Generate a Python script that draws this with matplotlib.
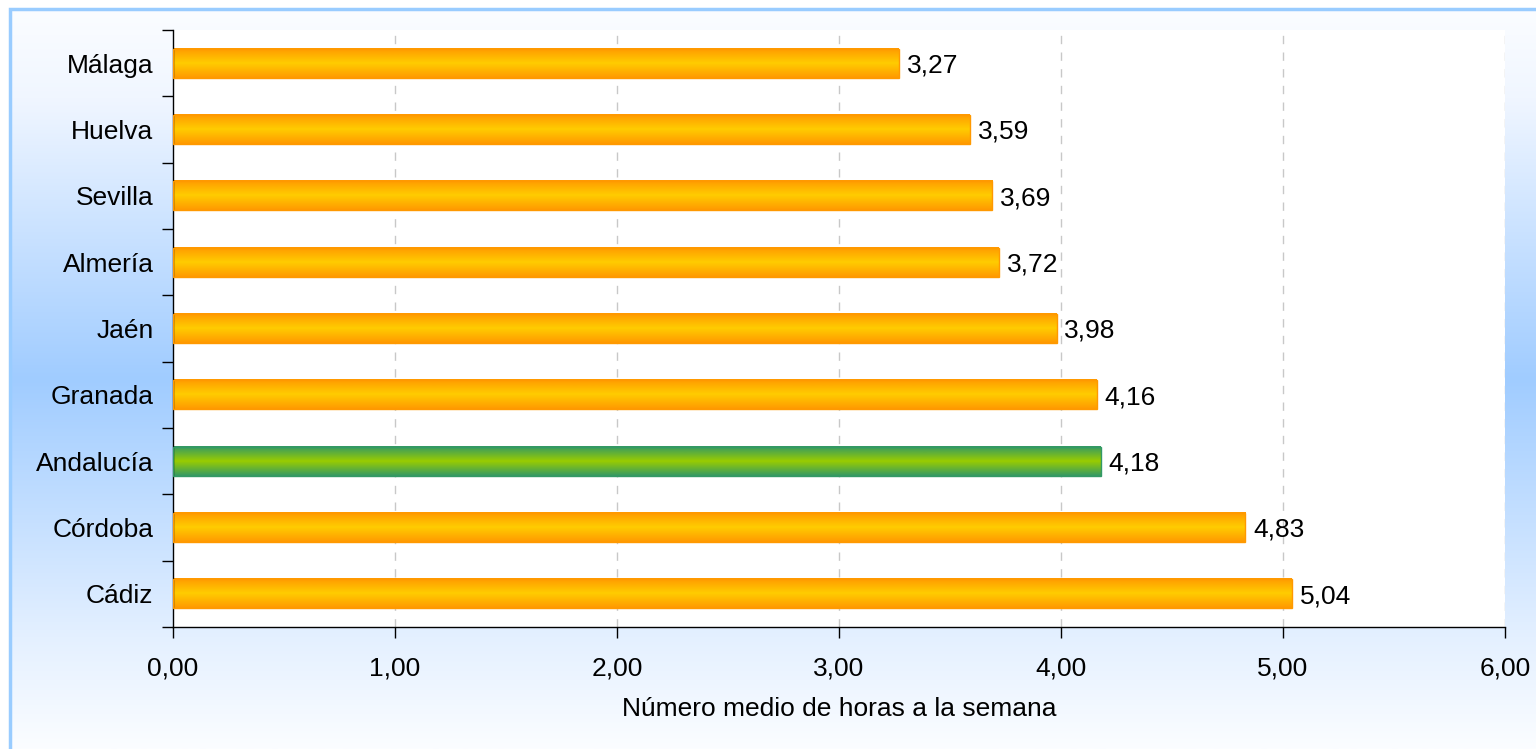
import numpy as np
import matplotlib.pyplot as plt
from matplotlib.colors import LinearSegmentedColormap
from matplotlib.patches import Rectangle
from matplotlib.ticker import FixedLocator

provincias = ["Málaga", "Huelva", "Sevilla", "Almería", "Jaén",
              "Granada", "Andalucía", "Córdoba", "Cádiz"]
horas = [3.27, 3.59, 3.69, 3.72, 3.98, 4.16, 4.18, 4.83, 5.04]
destacada = "Andalucía"
xticks = [0, 1, 2, 3, 4, 5, 6]

plt.rcParams['font.family'] = ['Liberation Sans', 'DejaVu Sans']
fs = 19

fig = plt.figure(figsize=(15.36, 7.49), dpi=100)

# fondo degradado del marco
bg = fig.add_axes([10 / 1536, 0, 1 - 10 / 1536, 1 - 9 / 749], zorder=0)
bg_cmap = LinearSegmentedColormap.from_list(
    "bg", [(0, "#fbfdff"), (0.12, "#f0f6ff"), (0.5, "#a0ccff"), (0.85, "#e4f0ff"), (1, "#fbfdff")])
grad = np.linspace(0, 1, 256).reshape(-1, 1)
bg.imshow(grad, cmap=bg_cmap, aspect='auto', extent=(0, 1, 1, 0))
bg.set_xlim(0, 1)
bg.set_ylim(1, 0)
bg.axis("off")
bg.add_patch(Rectangle((0, -0.5), 1.5, 1.5, fill=False, edgecolor="#99ccff",
                       linewidth=2.5, transform=bg.transAxes, clip_on=False))

ax = fig.add_axes([173 / 1536, 1 - 627 / 749, (1505 - 173) / 1536, (627 - 30) / 749], zorder=1)
ax.set_facecolor("white")

naranja = LinearSegmentedColormap.from_list("nar", ["#ff9900", "#ffcc00", "#ff9900"])
verde = LinearSegmentedColormap.from_list("ver", ["#339966", "#99cc00", "#339966"])

alto = 0.44
for i, (p, v) in enumerate(zip(provincias, horas)):
    cmap = verde if p == destacada else naranja
    borde = "#339966" if p == destacada else "#ff9900"
    ax.imshow(grad, cmap=cmap, aspect='auto',
              extent=(0, v, i + alto / 2, i - alto / 2), zorder=2)
    ax.add_patch(Rectangle((0, i - alto / 2), v, alto, fill=False,
                           edgecolor=borde, linewidth=1, zorder=3))
    ax.text(v + 0.035, i, f"{v:.2f}".replace(".", ","), va='center_baseline', ha='left',
            fontsize=fs, zorder=4)

ax.set_xlim(0, 6)
ax.set_ylim(len(provincias) - 0.5, -0.5)

ax.set_xticks(xticks)
ax.set_xticklabels([f"{x:.2f}".replace(".", ",") for x in xticks], fontsize=fs)
ax.set_yticks(range(len(provincias)))
ax.set_yticklabels(provincias, fontsize=fs)
ax.yaxis.set_minor_locator(FixedLocator(np.arange(-0.5, len(provincias), 1)))
ax.tick_params(axis='y', which='major', length=0, pad=14)
ax.tick_params(axis='y', which='minor', length=8, width=1, direction='out')
ax.tick_params(axis='x', length=8, width=1, direction='out', pad=13)

for x in xticks[1:]:
    ax.axvline(x, color="#c8c8c8", linestyle=(0, (6, 6)), linewidth=1, zorder=1)

for s in ["top", "right"]:
    ax.spines[s].set_visible(False)
ax.spines["left"].set_linewidth(1)
ax.spines["bottom"].set_linewidth(1)

ax.set_xlabel("Número medio de horas a la semana", fontsize=fs, labelpad=12)

plt.savefig("out.png", dpi=100)
plt.close()
